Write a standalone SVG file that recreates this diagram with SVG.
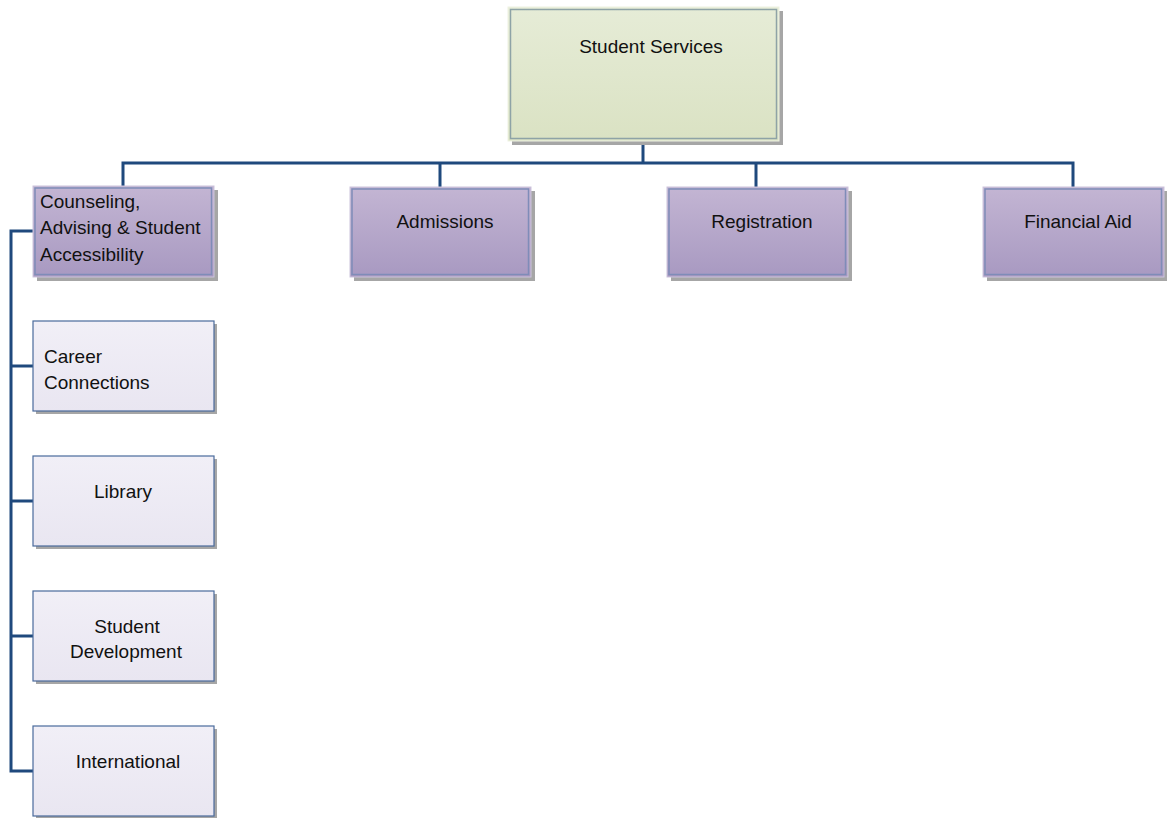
<svg xmlns="http://www.w3.org/2000/svg" width="1167" height="818" viewBox="0 0 1167 818">
<defs>
<linearGradient id="gGreen" x1="0" y1="0" x2="0" y2="1">
<stop offset="0" stop-color="#e6ecd7"/>
<stop offset="1" stop-color="#dae2c3"/>
</linearGradient>
<linearGradient id="gPurple" x1="0" y1="0" x2="0" y2="1">
<stop offset="0" stop-color="#c3b5d3"/>
<stop offset="1" stop-color="#a899c1"/>
</linearGradient>
<linearGradient id="gLight" x1="0" y1="0" x2="0" y2="1">
<stop offset="0" stop-color="#f1eff7"/>
<stop offset="1" stop-color="#e9e6f1"/>
</linearGradient>
</defs>
<style>
.shadow{fill:#a6a6a6}
.top{fill:url(#gGreen);stroke:#eef2e2;stroke-width:1}
.topIn{fill:none;stroke:#8ea3a6;stroke-width:1.5}
.mid{fill:url(#gPurple);stroke:#ccc3dc;stroke-width:1}
.midIn{fill:none;stroke:#7f8cb8;stroke-width:1.5}
.leaf{fill:url(#gLight);stroke:#4a6a9c;stroke-width:1.2}
.lbl{font-family:"Liberation Sans",Arial,sans-serif;font-size:19px;fill:#111}
.c{text-anchor:middle}
.conn{fill:none;stroke:#1f497d;stroke-width:3}
</style>
<g id="connectors">
<path class="conn" d="M643,142 V163"/>
<path class="conn" d="M123,186 V163 H1073 V187"/>
<path class="conn" d="M440,163 V187"/>
<path class="conn" d="M756,163 V187"/>
<path class="conn" d="M33,231 H11 V771 H33"/>
<path class="conn" d="M11,366 H33"/>
<path class="conn" d="M11,501 H33"/>
<path class="conn" d="M11,636 H33"/>
</g>
<g id="student-services">
<rect class="shadow" x="512" y="11" width="271" height="134"/>
<rect class="top" x="508" y="7" width="271" height="134"/>
<rect class="topIn" x="510.5" y="9.5" width="266" height="129"/>
<text class="lbl c" x="651" y="53">Student Services</text>
</g>
<g id="counseling">
<rect class="shadow" x="37" y="190" width="181" height="91"/>
<rect class="mid" x="33" y="186" width="181" height="91"/>
<rect class="midIn" x="35" y="188" width="176.5" height="86.5"/>
<text class="lbl" x="40" y="208">Counseling,</text>
<text class="lbl" x="40" y="234">Advising &amp; Student</text>
<text class="lbl" x="40" y="261">Accessibility</text>
</g>
<g id="admissions">
<rect class="shadow" x="354" y="191" width="181" height="90"/>
<rect class="mid" x="350" y="187" width="181" height="90"/>
<rect class="midIn" x="352" y="189" width="176.5" height="85.5"/>
<text class="lbl c" x="445" y="228">Admissions</text>
</g>
<g id="registration">
<rect class="shadow" x="671" y="191" width="181" height="90"/>
<rect class="mid" x="667" y="187" width="181" height="90"/>
<rect class="midIn" x="669" y="189" width="176.5" height="85.5"/>
<text class="lbl c" x="762" y="228">Registration</text>
</g>
<g id="financial-aid">
<rect class="shadow" x="987" y="191" width="181" height="90"/>
<rect class="mid" x="983" y="187" width="181" height="90"/>
<rect class="midIn" x="985" y="189" width="176.5" height="85.5"/>
<text class="lbl c" x="1078" y="228">Financial Aid</text>
</g>
<g id="career-connections">
<rect class="shadow" x="36" y="324" width="181" height="90"/>
<rect class="leaf" x="33" y="321" width="181" height="90"/>
<text class="lbl" x="44" y="363">Career</text>
<text class="lbl" x="44" y="389">Connections</text>
</g>
<g id="library">
<rect class="shadow" x="36" y="459" width="181" height="90"/>
<rect class="leaf" x="33" y="456" width="181" height="90"/>
<text class="lbl c" x="123" y="498">Library</text>
</g>
<g id="student-development">
<rect class="shadow" x="36" y="594" width="181" height="90"/>
<rect class="leaf" x="33" y="591" width="181" height="90"/>
<text class="lbl c" x="127" y="633">Student</text>
<text class="lbl c" x="126" y="658">Development</text>
</g>
<g id="international">
<rect class="shadow" x="36" y="729" width="181" height="90"/>
<rect class="leaf" x="33" y="726" width="181" height="90"/>
<text class="lbl c" x="128" y="768">International</text>
</g>
</svg>
